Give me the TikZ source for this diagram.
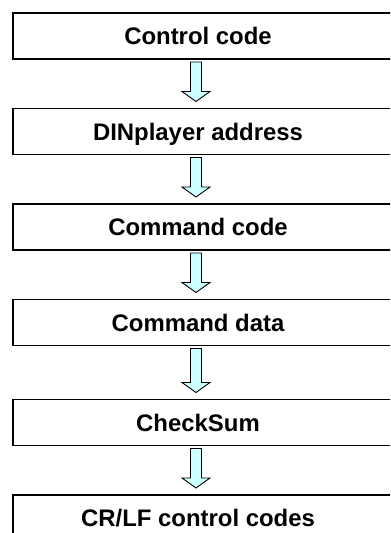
\documentclass[tikz,border=0pt]{standalone}
\usepackage{fontspec}
\setmainfont{Liberation Sans}
\usetikzlibrary{calc}
\definecolor{arrowfill}{RGB}{204,255,255}
\newcommand\flowarr[2]{%
  \filldraw[flow] let \p1=(#1), \p2=(#2) in
    (\x1-5.5bp,\y1) -- (\x1+5.5bp,\y1) -- (\x1+5.5bp,\y2+10bp) -- (\x1+14bp,\y2+10bp)
    -- (\x1,\y2) -- (\x1-14bp,\y2+10bp) -- (\x1-5.5bp,\y2+10bp) -- cycle;}
\begin{document}
\begin{tikzpicture}[x=1bp,y=-1bp,
  box/.style={draw=black,line width=1.6bp,minimum width=400bp,minimum height=46bp,
    anchor=north west,inner sep=0pt,outer sep=0pt},
  lbl/.style={font=\fontsize{24}{28}\selectfont\bfseries,inner sep=0pt,anchor=base},
  flow/.style={draw=black,line width=0.9bp,fill=arrowfill,line join=miter}]
\useasboundingbox (0,0) rectangle (390,533);
\clip (0,0) rectangle (390,533);
\node[box] (b1) at (13,13) {};
\node[box] (b2) at (13,108.5) {};
\node[box] (b3) at (13,204) {};
\node[box] (b4) at (13,299.5) {};
\node[box] (b5) at (13,399.5) {};
\node[box] (b6) at (13,495) {};
\node[lbl] (t1) at (198,44.6) {Control code};
\node[lbl] (t2) at (198,140.1) {DINplayer address};
\node[lbl] (t3) at (198,235.6) {Command code};
\node[lbl] (t4) at (198,331.1) {Command data};
\node[lbl] (t5) at (198,431.1) {CheckSum};
\node[lbl] (t6) at (198,526.6) {CR/LF control codes};
\coordinate (a1s) at ([yshift=-3bp]b1.south -| 196,0);
\coordinate (a1e) at ([yshift=7bp]b2.north -| 196,0);
\coordinate (a2s) at ([yshift=-3bp]b2.south -| 196,0);
\coordinate (a2e) at ([yshift=7bp]b3.north -| 196,0);
\coordinate (a3s) at ([yshift=-3bp]b3.south -| 196,0);
\coordinate (a3e) at ([yshift=7bp]b4.north -| 196,0);
\coordinate (a4s) at ([yshift=-3bp]b4.south -| 196,0);
\coordinate (a4e) at ([yshift=7bp]b5.north -| 196,0);
\coordinate (a5s) at ([yshift=-3bp]b5.south -| 196,0);
\coordinate (a5e) at ([yshift=7bp]b6.north -| 196,0);
\flowarr{a1s}{a1e}
\flowarr{a2s}{a2e}
\flowarr{a3s}{a3e}
\flowarr{a4s}{a4e}
\flowarr{a5s}{a5e}
\end{tikzpicture}
\end{document}
